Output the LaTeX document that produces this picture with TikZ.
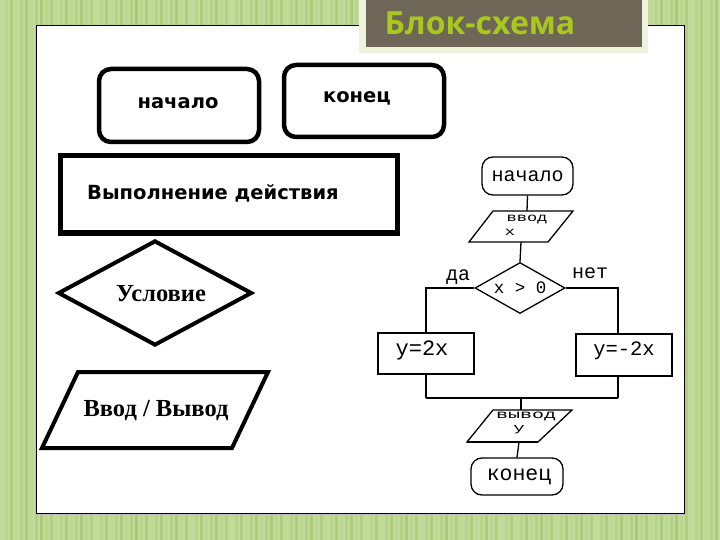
\documentclass[tikz,border=0pt]{standalone}
\usepackage{fontspec}
\usepackage{graphicx}
\setmainfont{Liberation Serif}
\newfontfamily\vsans{DejaVu Sans}
\newfontfamily\monofnt{Liberation Mono}
\newfontfamily\titlefnt{Open Sans}
\usetikzlibrary{shapes.geometric}
\definecolor{bgA}{HTML}{C2DB9A}
\definecolor{bgB}{HTML}{A8CA76}
\definecolor{titlebg}{HTML}{6E6656}
\definecolor{titletxt}{HTML}{A9C81C}
\definecolor{titleframe}{HTML}{EEF3DC}
\tikzset{
  biground/.style={draw, line width=4.5pt, rounded corners=12pt, inner sep=0pt},
  bigtxt/.style={font=\vsans\bfseries\fontsize{19.5}{21}\selectfont},
  sertxt/.style={font=\bfseries\fontsize{24.5}{26}\selectfont},
  thin/.style={draw, line width=1.3pt},
  smallround/.style={draw, line width=1.3pt, rounded corners=11pt, inner sep=0pt},
  monotxt/.style={font=\monofnt\fontsize{20}{20}\selectfont, inner sep=0pt},
  conn/.style={line width=1.3pt},
}
\begin{document}
\begin{tikzpicture}[x=1pt,y=-1pt]
\useasboundingbox (0,0) rectangle (720,540);
% background with stripes
\fill[bgA] (0,0) rectangle (720,540);
\foreach \i in {0,...,143} {
  \pgfmathsetmacro{\s}{int(mod(\i*37,100))}
  \fill[bgB!\s!bgA] (\i*5,0) rectangle ++(2.5,540);
}
% white panel
\fill[black!25] (38,28) rectangle (686,515);
\filldraw[fill=white, draw=black, line width=1pt] (36,26) rectangle (684,513);
% title box
\fill[titleframe] (359,0) rectangle (648,53);
\fill[titlebg] (366,0) rectangle (642,47);
\node[font=\titlefnt\bfseries\fontsize{32}{34}\selectfont, text=titletxt, anchor=base, inner sep=0pt] (title) at (480,35) {Блок-схема};

% left legend
\node[biground, minimum width=160pt, minimum height=73pt] (nach) at (179,105.5) {};
\node[bigtxt] (nachT) at (178,103) {начало};
\node[biground, minimum width=160pt, minimum height=72pt] (kon) at (364,101) {};
\node[bigtxt] (konT) at (357,98) {конец};
\node[draw, line width=5pt, minimum width=337pt, minimum height=77pt, inner sep=0pt] (act) at (228.5,194.5) {};
\node[bigtxt, anchor=west, inner sep=0pt] (actT) at (87,193) {Выполнение действия};
\node[draw, diamond, line width=4pt, minimum width=194pt, minimum height=105pt, inner sep=0pt] (cond) at (155,293) {};
\node[sertxt] (condT) at (161,294) {Условие};
\draw[line width=4pt, line join=miter] (78,372) -- (268,372) -- (232,448) -- (42,448) -- cycle;
\node[sertxt] (ioT) at (156,411) {Ввод / Вывод};

% right flowchart
\node[smallround, minimum width=91pt, minimum height=38pt] (n1) at (527.5,176) {};
\node[monotxt] (n1T) at (527.5,176) {начало};
\draw[thin] (493,211) -- (573,211) -- (548,242) -- (469,242) -- cycle;
\coordinate (p1top) at (527,211);
\coordinate (p1bot) at (521,242);
\node[monotxt, font=\monofnt\fontsize{17}{17}\selectfont] (p1T) at (527,219) {\scalebox{1}[0.7]{ввод}};
\node[monotxt, font=\monofnt\fontsize{17}{17}\selectfont] (p1x) at (510,232) {\scalebox{1}[0.7]{x}};
\node[thin, diamond, minimum width=90pt, minimum height=51pt, inner sep=0pt] (d) at (520,288) {};
\node[monotxt, font=\monofnt\fontsize{17.5}{17.5}\selectfont] (dT) at (520,288) {x > 0};
\node[monotxt] (da) at (458,277) {да};
\node[monotxt] (net) at (590,273) {нет};
\node[thin, minimum width=96pt, minimum height=41pt, inner sep=0pt] (b1) at (426,353.5) {};
\node[monotxt, font=\monofnt\fontsize{22}{22}\selectfont] (b1T) at (422,350) {y=2x};
\node[draw, line width=2pt, minimum width=96pt, minimum height=42pt, inner sep=0pt] (b2) at (624,355) {};
\node[monotxt, font=\monofnt\fontsize{20.5}{20.5}\selectfont] (b2T) at (624,351) {y=-2x};
\coordinate (jl) at (426,398);
\coordinate (jr) at (618,398);
\coordinate (jm) at (521,398);
\draw[line width=1.3pt] (493,410) -- (572,410) -- (538,442) -- (467,442) -- cycle;
\draw[line width=2pt] (467,442) -- (538,442);
\coordinate (p2top) at (521,410);
\coordinate (p2bot) at (519,442);
\node[monotxt, font=\monofnt\fontsize{20}{20}\selectfont] (p2T) at (526,416.5) {\scalebox{1}[0.6]{вывод}};
\node[monotxt, font=\monofnt\fontsize{19}{19}\selectfont] (p2y) at (519,429.5) {\scalebox{1}[0.6]{y}};
\node[smallround, minimum width=92pt, minimum height=37pt] (n2) at (517,476.5) {};
\node[monotxt, font=\monofnt\fontsize{21.5}{21.5}\selectfont] (n2T) at (519,476.5) {конец};

% connectors
\draw[conn] (n1.south) -- (p1top);
\draw[conn] (p1bot) -- (d.north);
\draw[conn] (d.west) -| (b1.north);
\draw[conn] (d.east) -| (b2.north -| jr);
\draw[conn] (b1.south) -- (jl);
\draw[conn] (b2.south -| jr) -- (jr);
\draw[line width=2pt] (jl) -- (jr);
\draw[conn] (jm) -- (p2top);
\draw[conn] (p2bot) -- (n2.north);
\end{tikzpicture}
\end{document}
